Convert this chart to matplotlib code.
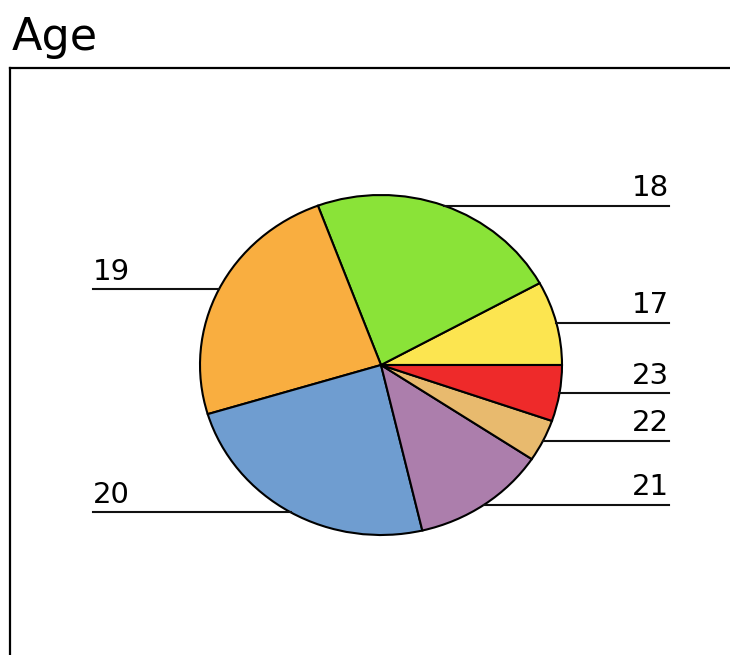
import numpy as np
import matplotlib.pyplot as plt

# age groups and counts (counter-clockwise from 3 o'clock)
ages = ['17', '18', '19', '20', '21', '22', '23']
counts = [6, 17, 18, 18, 9, 3, 4]
colors = ['#fce550', '#8ae338', '#f9ae40', '#6f9dd0', '#ac7eac', '#e8ba6e', '#ee2a2a']

W, H = 730, 655
fig = plt.figure(figsize=(W / 100, H / 100), dpi=100)

# frame around the plot area (runs off the right and bottom edges)
frame = fig.add_axes([10 / W, -0.1, 1.0, (H - 68) / H + 0.1])
frame.set_xticks([])
frame.set_yticks([])
frame.spines['right'].set_visible(False)
frame.spines['bottom'].set_visible(False)
for s in ['left', 'top']:
    frame.spines[s].set_linewidth(1.6)

fig.text(12 / W, 1 - 50 / H, 'Age', fontsize=32, va='baseline', ha='left')

# pie in an axes whose box is the ellipse bounding box
cx, cy, rx, ry = 381, 365, 181, 170
ax = fig.add_axes([(cx - rx) / W, (H - cy - ry) / H, 2 * rx / W, 2 * ry / H])
wedges, _ = ax.pie(counts, colors=colors, startangle=0, counterclock=True,
                   wedgeprops=dict(edgecolor='black', linewidth=1.5))
ax.set_aspect('auto')
ax.set_xlim(-1, 1)
ax.set_ylim(-1, 1)
ax.axis('off')

# leader lines from mid angle of each wedge to the side label
reach = 1.59
for w, lab in zip(wedges, ages):
    mid = np.deg2rad((w.theta1 + w.theta2) / 2)
    x0, y0 = np.cos(mid), np.sin(mid)
    if x0 >= 0:
        x1, ha = reach, 'right'
    else:
        x1, ha = -reach, 'left'
    ax.plot([x0, x1], [y0, y0], color='#111111', linewidth=1.5, clip_on=False)
    ax.annotate(lab, xy=(x1, y0), xytext=(0, 7), textcoords='offset points',
                ha=ha, va='baseline', fontsize=21, annotation_clip=False)

fig.savefig('out.png', dpi=100)
